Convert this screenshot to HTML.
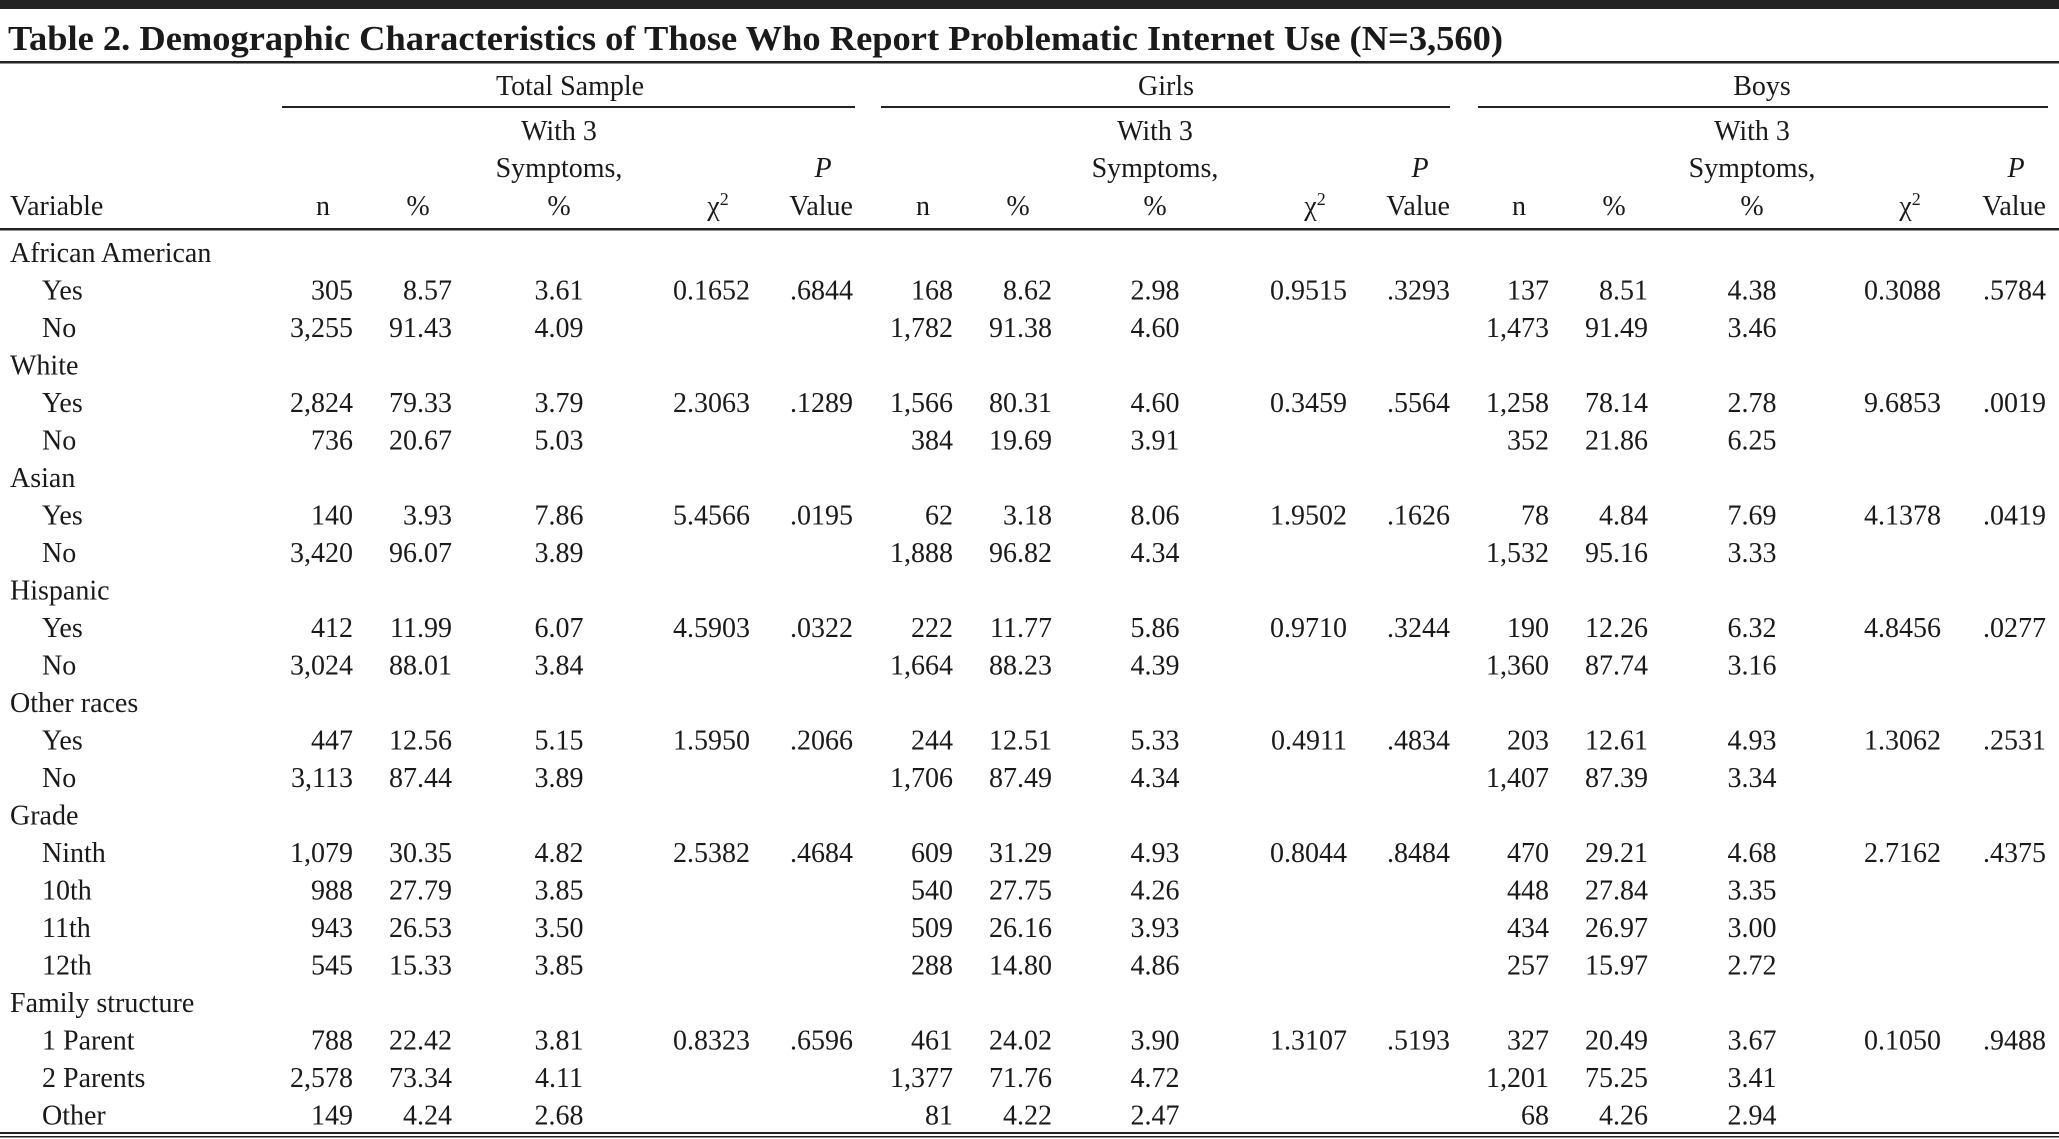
<!DOCTYPE html>
<html><head><meta charset="utf-8"><style>
html,body{margin:0;padding:0;background:#fff;}
svg{display:block;}
text{font-family:"Liberation Serif",serif;fill:#1a1a1a;font-size:28px;}
.e{text-anchor:end}.m{text-anchor:middle}
</style></head><body>
<svg width="2059" height="1139" viewBox="0 0 2059 1139" xmlns="http://www.w3.org/2000/svg">
<rect x="0" y="0" width="2059" height="9" fill="#222"/>
<text x="8" y="50" style="font-size:35px;font-weight:bold" textLength="1495" lengthAdjust="spacingAndGlyphs">Table 2. Demographic Characteristics of Those Who Report Problematic Internet Use (N=3,560)</text>
<rect x="0" y="61" width="2059" height="2.5" fill="#222"/>
<text class="m" x="570" y="95">Total Sample</text>
<text class="m" x="1166" y="95">Girls</text>
<text class="m" x="1762" y="95">Boys</text>
<rect x="282" y="106" width="573" height="2" fill="#222"/>
<rect x="881" y="106" width="569" height="2" fill="#222"/>
<rect x="1478" y="106" width="570" height="2" fill="#222"/>
<g id="hdr">
<text x="10" y="215">Variable</text>
</g>
<g>
<text class="e" x="330" y="215">n</text><text class="m" x="418" y="215">%</text>
<text class="m" x="559" y="140">With 3</text><text class="m" x="559" y="177">Symptoms,</text><text class="m" x="559" y="215">%</text>
<text class="m" x="718" y="215">χ<tspan dy="-10" style="font-size:18px">2</tspan></text>
<text class="m" x="823" y="177" font-style="italic">P</text><text class="e" x="853" y="215">Value</text>

<text class="e" x="930" y="215">n</text><text class="m" x="1018" y="215">%</text>
<text class="m" x="1155" y="140">With 3</text><text class="m" x="1155" y="177">Symptoms,</text><text class="m" x="1155" y="215">%</text>
<text class="m" x="1315" y="215">χ<tspan dy="-10" style="font-size:18px">2</tspan></text>
<text class="m" x="1420" y="177" font-style="italic">P</text><text class="e" x="1450" y="215">Value</text>

<text class="e" x="1526" y="215">n</text><text class="m" x="1614" y="215">%</text>
<text class="m" x="1752" y="140">With 3</text><text class="m" x="1752" y="177">Symptoms,</text><text class="m" x="1752" y="215">%</text>
<text class="m" x="1910" y="215">χ<tspan dy="-10" style="font-size:18px">2</tspan></text>
<text class="m" x="2016" y="177" font-style="italic">P</text><text class="e" x="2046" y="215">Value</text>
</g>
<rect x="0" y="228" width="2059" height="2.5" fill="#222"/>
<g id="rows"></g>
<rect x="0" y="1132" width="2059" height="2" fill="#222"/>
<rect x="0" y="1136" width="2059" height="1.5" fill="#222"/>

<text x="10" y="262.0">African American</text>
<text x="42" y="299.5">Yes</text><text class="e" x="353" y="299.5">305</text><text class="e" x="452" y="299.5">8.57</text><text class="m" x="559" y="299.5">3.61</text><text class="e" x="750" y="299.5">0.1652</text><text class="e" x="853" y="299.5">.6844</text><text class="e" x="953" y="299.5">168</text><text class="e" x="1052" y="299.5">8.62</text><text class="m" x="1155" y="299.5">2.98</text><text class="e" x="1347" y="299.5">0.9515</text><text class="e" x="1450" y="299.5">.3293</text><text class="e" x="1549" y="299.5">137</text><text class="e" x="1648" y="299.5">8.51</text><text class="m" x="1752" y="299.5">4.38</text><text class="e" x="1941" y="299.5">0.3088</text><text class="e" x="2046" y="299.5">.5784</text>
<text x="42" y="337.0">No</text><text class="e" x="353" y="337.0">3,255</text><text class="e" x="452" y="337.0">91.43</text><text class="m" x="559" y="337.0">4.09</text><text class="e" x="953" y="337.0">1,782</text><text class="e" x="1052" y="337.0">91.38</text><text class="m" x="1155" y="337.0">4.60</text><text class="e" x="1549" y="337.0">1,473</text><text class="e" x="1648" y="337.0">91.49</text><text class="m" x="1752" y="337.0">3.46</text>
<text x="10" y="374.5">White</text>
<text x="42" y="412.0">Yes</text><text class="e" x="353" y="412.0">2,824</text><text class="e" x="452" y="412.0">79.33</text><text class="m" x="559" y="412.0">3.79</text><text class="e" x="750" y="412.0">2.3063</text><text class="e" x="853" y="412.0">.1289</text><text class="e" x="953" y="412.0">1,566</text><text class="e" x="1052" y="412.0">80.31</text><text class="m" x="1155" y="412.0">4.60</text><text class="e" x="1347" y="412.0">0.3459</text><text class="e" x="1450" y="412.0">.5564</text><text class="e" x="1549" y="412.0">1,258</text><text class="e" x="1648" y="412.0">78.14</text><text class="m" x="1752" y="412.0">2.78</text><text class="e" x="1941" y="412.0">9.6853</text><text class="e" x="2046" y="412.0">.0019</text>
<text x="42" y="449.5">No</text><text class="e" x="353" y="449.5">736</text><text class="e" x="452" y="449.5">20.67</text><text class="m" x="559" y="449.5">5.03</text><text class="e" x="953" y="449.5">384</text><text class="e" x="1052" y="449.5">19.69</text><text class="m" x="1155" y="449.5">3.91</text><text class="e" x="1549" y="449.5">352</text><text class="e" x="1648" y="449.5">21.86</text><text class="m" x="1752" y="449.5">6.25</text>
<text x="10" y="487.0">Asian</text>
<text x="42" y="524.5">Yes</text><text class="e" x="353" y="524.5">140</text><text class="e" x="452" y="524.5">3.93</text><text class="m" x="559" y="524.5">7.86</text><text class="e" x="750" y="524.5">5.4566</text><text class="e" x="853" y="524.5">.0195</text><text class="e" x="953" y="524.5">62</text><text class="e" x="1052" y="524.5">3.18</text><text class="m" x="1155" y="524.5">8.06</text><text class="e" x="1347" y="524.5">1.9502</text><text class="e" x="1450" y="524.5">.1626</text><text class="e" x="1549" y="524.5">78</text><text class="e" x="1648" y="524.5">4.84</text><text class="m" x="1752" y="524.5">7.69</text><text class="e" x="1941" y="524.5">4.1378</text><text class="e" x="2046" y="524.5">.0419</text>
<text x="42" y="562.0">No</text><text class="e" x="353" y="562.0">3,420</text><text class="e" x="452" y="562.0">96.07</text><text class="m" x="559" y="562.0">3.89</text><text class="e" x="953" y="562.0">1,888</text><text class="e" x="1052" y="562.0">96.82</text><text class="m" x="1155" y="562.0">4.34</text><text class="e" x="1549" y="562.0">1,532</text><text class="e" x="1648" y="562.0">95.16</text><text class="m" x="1752" y="562.0">3.33</text>
<text x="10" y="599.5">Hispanic</text>
<text x="42" y="637.0">Yes</text><text class="e" x="353" y="637.0">412</text><text class="e" x="452" y="637.0">11.99</text><text class="m" x="559" y="637.0">6.07</text><text class="e" x="750" y="637.0">4.5903</text><text class="e" x="853" y="637.0">.0322</text><text class="e" x="953" y="637.0">222</text><text class="e" x="1052" y="637.0">11.77</text><text class="m" x="1155" y="637.0">5.86</text><text class="e" x="1347" y="637.0">0.9710</text><text class="e" x="1450" y="637.0">.3244</text><text class="e" x="1549" y="637.0">190</text><text class="e" x="1648" y="637.0">12.26</text><text class="m" x="1752" y="637.0">6.32</text><text class="e" x="1941" y="637.0">4.8456</text><text class="e" x="2046" y="637.0">.0277</text>
<text x="42" y="674.5">No</text><text class="e" x="353" y="674.5">3,024</text><text class="e" x="452" y="674.5">88.01</text><text class="m" x="559" y="674.5">3.84</text><text class="e" x="953" y="674.5">1,664</text><text class="e" x="1052" y="674.5">88.23</text><text class="m" x="1155" y="674.5">4.39</text><text class="e" x="1549" y="674.5">1,360</text><text class="e" x="1648" y="674.5">87.74</text><text class="m" x="1752" y="674.5">3.16</text>
<text x="10" y="712.0">Other races</text>
<text x="42" y="749.5">Yes</text><text class="e" x="353" y="749.5">447</text><text class="e" x="452" y="749.5">12.56</text><text class="m" x="559" y="749.5">5.15</text><text class="e" x="750" y="749.5">1.5950</text><text class="e" x="853" y="749.5">.2066</text><text class="e" x="953" y="749.5">244</text><text class="e" x="1052" y="749.5">12.51</text><text class="m" x="1155" y="749.5">5.33</text><text class="e" x="1347" y="749.5">0.4911</text><text class="e" x="1450" y="749.5">.4834</text><text class="e" x="1549" y="749.5">203</text><text class="e" x="1648" y="749.5">12.61</text><text class="m" x="1752" y="749.5">4.93</text><text class="e" x="1941" y="749.5">1.3062</text><text class="e" x="2046" y="749.5">.2531</text>
<text x="42" y="787.0">No</text><text class="e" x="353" y="787.0">3,113</text><text class="e" x="452" y="787.0">87.44</text><text class="m" x="559" y="787.0">3.89</text><text class="e" x="953" y="787.0">1,706</text><text class="e" x="1052" y="787.0">87.49</text><text class="m" x="1155" y="787.0">4.34</text><text class="e" x="1549" y="787.0">1,407</text><text class="e" x="1648" y="787.0">87.39</text><text class="m" x="1752" y="787.0">3.34</text>
<text x="10" y="824.5">Grade</text>
<text x="42" y="862.0">Ninth</text><text class="e" x="353" y="862.0">1,079</text><text class="e" x="452" y="862.0">30.35</text><text class="m" x="559" y="862.0">4.82</text><text class="e" x="750" y="862.0">2.5382</text><text class="e" x="853" y="862.0">.4684</text><text class="e" x="953" y="862.0">609</text><text class="e" x="1052" y="862.0">31.29</text><text class="m" x="1155" y="862.0">4.93</text><text class="e" x="1347" y="862.0">0.8044</text><text class="e" x="1450" y="862.0">.8484</text><text class="e" x="1549" y="862.0">470</text><text class="e" x="1648" y="862.0">29.21</text><text class="m" x="1752" y="862.0">4.68</text><text class="e" x="1941" y="862.0">2.7162</text><text class="e" x="2046" y="862.0">.4375</text>
<text x="42" y="899.5">10th</text><text class="e" x="353" y="899.5">988</text><text class="e" x="452" y="899.5">27.79</text><text class="m" x="559" y="899.5">3.85</text><text class="e" x="953" y="899.5">540</text><text class="e" x="1052" y="899.5">27.75</text><text class="m" x="1155" y="899.5">4.26</text><text class="e" x="1549" y="899.5">448</text><text class="e" x="1648" y="899.5">27.84</text><text class="m" x="1752" y="899.5">3.35</text>
<text x="42" y="937.0">11th</text><text class="e" x="353" y="937.0">943</text><text class="e" x="452" y="937.0">26.53</text><text class="m" x="559" y="937.0">3.50</text><text class="e" x="953" y="937.0">509</text><text class="e" x="1052" y="937.0">26.16</text><text class="m" x="1155" y="937.0">3.93</text><text class="e" x="1549" y="937.0">434</text><text class="e" x="1648" y="937.0">26.97</text><text class="m" x="1752" y="937.0">3.00</text>
<text x="42" y="974.5">12th</text><text class="e" x="353" y="974.5">545</text><text class="e" x="452" y="974.5">15.33</text><text class="m" x="559" y="974.5">3.85</text><text class="e" x="953" y="974.5">288</text><text class="e" x="1052" y="974.5">14.80</text><text class="m" x="1155" y="974.5">4.86</text><text class="e" x="1549" y="974.5">257</text><text class="e" x="1648" y="974.5">15.97</text><text class="m" x="1752" y="974.5">2.72</text>
<text x="10" y="1012.0">Family structure</text>
<text x="42" y="1049.5">1 Parent</text><text class="e" x="353" y="1049.5">788</text><text class="e" x="452" y="1049.5">22.42</text><text class="m" x="559" y="1049.5">3.81</text><text class="e" x="750" y="1049.5">0.8323</text><text class="e" x="853" y="1049.5">.6596</text><text class="e" x="953" y="1049.5">461</text><text class="e" x="1052" y="1049.5">24.02</text><text class="m" x="1155" y="1049.5">3.90</text><text class="e" x="1347" y="1049.5">1.3107</text><text class="e" x="1450" y="1049.5">.5193</text><text class="e" x="1549" y="1049.5">327</text><text class="e" x="1648" y="1049.5">20.49</text><text class="m" x="1752" y="1049.5">3.67</text><text class="e" x="1941" y="1049.5">0.1050</text><text class="e" x="2046" y="1049.5">.9488</text>
<text x="42" y="1087.0">2 Parents</text><text class="e" x="353" y="1087.0">2,578</text><text class="e" x="452" y="1087.0">73.34</text><text class="m" x="559" y="1087.0">4.11</text><text class="e" x="953" y="1087.0">1,377</text><text class="e" x="1052" y="1087.0">71.76</text><text class="m" x="1155" y="1087.0">4.72</text><text class="e" x="1549" y="1087.0">1,201</text><text class="e" x="1648" y="1087.0">75.25</text><text class="m" x="1752" y="1087.0">3.41</text>
<text x="42" y="1124.5">Other</text><text class="e" x="353" y="1124.5">149</text><text class="e" x="452" y="1124.5">4.24</text><text class="m" x="559" y="1124.5">2.68</text><text class="e" x="953" y="1124.5">81</text><text class="e" x="1052" y="1124.5">4.22</text><text class="m" x="1155" y="1124.5">2.47</text><text class="e" x="1549" y="1124.5">68</text><text class="e" x="1648" y="1124.5">4.26</text><text class="m" x="1752" y="1124.5">2.94</text>
</svg>
</body></html>
